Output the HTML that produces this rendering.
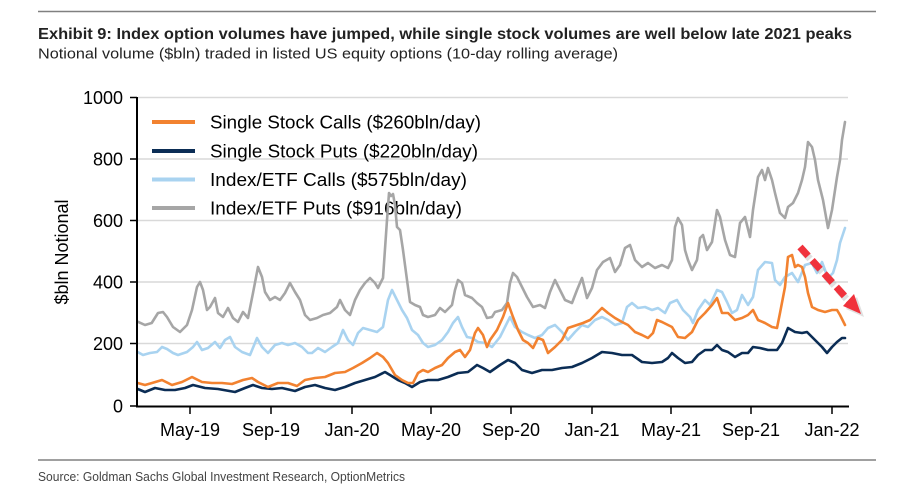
<!DOCTYPE html>
<html>
<head>
<meta charset="utf-8">
<style>
  html,body{margin:0;padding:0;background:#fff;}
  svg{display:block;}
  text{font-family:"Liberation Sans",Arial,sans-serif;}
  .narrow{font-family:"Liberation Sans Narrow","Liberation Sans",Arial,sans-serif;}
</style>
</head>
<body>
<svg width="901" height="484" viewBox="0 0 901 484" xmlns="http://www.w3.org/2000/svg">
  <rect width="901" height="484" fill="#fff"/>
  <!-- top rule -->
  <line x1="38" y1="11.5" x2="876" y2="11.5" stroke="#808080" stroke-width="1.5"/>
  <!-- title -->
  <text class="narrow" x="38" y="39" font-size="16" font-weight="bold" fill="#222" textLength="814" lengthAdjust="spacingAndGlyphs">Exhibit 9: Index option volumes have jumped, while single stock volumes are well below late 2021 peaks</text>
  <text class="narrow" x="38" y="58.5" font-size="15" fill="#222" textLength="580" lengthAdjust="spacingAndGlyphs">Notional volume ($bln) traded in listed US equity options (10-day rolling average)</text>

  <!-- gridlines -->
  <g stroke="#d9d9d9" stroke-width="1.5">
    <line x1="138" y1="97.5" x2="848" y2="97.5"/>
    <line x1="138" y1="159" x2="848" y2="159"/>
    <line x1="138" y1="220.5" x2="848" y2="220.5"/>
    <line x1="138" y1="282" x2="848" y2="282"/>
    <line x1="138" y1="343.5" x2="848" y2="343.5"/>
  </g>

  <!-- y ticks -->
  <g stroke="#000" stroke-width="1.5">
    <line x1="130" y1="97.5" x2="137" y2="97.5"/>
    <line x1="130" y1="159" x2="137" y2="159"/>
    <line x1="130" y1="220.5" x2="137" y2="220.5"/>
    <line x1="130" y1="282" x2="137" y2="282"/>
    <line x1="130" y1="343.5" x2="137" y2="343.5"/>
    <line x1="130" y1="406" x2="137" y2="406"/>
  </g>
  <g font-size="18" fill="#000" text-anchor="end">
    <text x="123" y="104">1000</text>
    <text x="123" y="165.5">800</text>
    <text x="123" y="227">600</text>
    <text x="123" y="288.5">400</text>
    <text x="123" y="350">200</text>
    <text x="123" y="412.5">0</text>
  </g>
  <text x="68" y="252" font-size="18" fill="#000" text-anchor="middle" transform="rotate(-90 68 252)">$bln Notional</text>

  <!-- legend -->
  <g stroke-width="4">
    <line x1="152" y1="122" x2="195" y2="122" stroke="#F28230"/>
    <line x1="152" y1="151" x2="195" y2="151" stroke="#0B2D55"/>
    <line x1="152" y1="179.5" x2="195" y2="179.5" stroke="#A9D3F0"/>
    <line x1="152" y1="208" x2="195" y2="208" stroke="#A6A6A6"/>
  </g>
  <g font-size="18" fill="#000">
    <text x="210" y="128.5" textLength="271" lengthAdjust="spacingAndGlyphs">Single Stock Calls ($260bln/day)</text>
    <text x="210" y="157.5" textLength="268" lengthAdjust="spacingAndGlyphs">Single Stock Puts ($220bln/day)</text>
    <text x="210" y="186" textLength="257" lengthAdjust="spacingAndGlyphs">Index/ETF Calls ($575bln/day)</text>
    <text x="210" y="214.5" textLength="252" lengthAdjust="spacingAndGlyphs">Index/ETF Puts ($916bln/day)</text>
  </g>

  <!-- series -->
  <g fill="none" stroke-width="2.6" stroke-linejoin="round" stroke-linecap="round">
    <polyline stroke="#A6A6A6" points="137.7,321.7 145,325 151.7,323 158,313 163,312 167,317 173,327 180,332 187,325 192,310 197,287 200,282 203,290 207,310 210,307 215,298 218,313 223,317 228,308 233,318 238,322 243,312 248,318 253,293 258,267 262,277 265,292 270,300 275,297 280,300 285,293 290,283 295,292 300,300 305,315 310,320 317,318 323,315 330,313 337,307 340,300 345,310 350,315 355,300 360,290 365,283 370,278 375,283 378,288 383,278 387,220 389,193 391,196 393,194 395,205 397,227 400,230 403,250 407,280 410,302 415,305 420,307 423,315 428,317 435,315 440,308 445,312 452,305 455,290 458,280 462,283 465,295 472,298 477,303 482,307 487,318 492,317 495,312 502,310 507,303 510,283 513,273 517,277 522,287 527,297 533,307 540,305 545,308 550,292 555,280 560,290 565,300 572,303 577,290 582,278 587,298 592,288 597,270 603,262 610,258 615,272 620,265 625,248 630,245 635,260 642,267 648,263 655,268 662,265 668,268 672,260 675,227 678,218 682,225 685,250 688,260 692,270 697,260 700,238 703,235 707,250 712,242 717,210 720,217 725,240 730,255 735,257 740,223 745,217 750,237 753,210 758,177 762,170 765,180 768,168 772,180 775,193 780,213 785,218 788,207 793,203 798,193 802,180 805,167 808,142 812,147 815,160 818,180 823,200 828,228 832,210 837,177 840,160 842,140 845,122"/>
    <polyline stroke="#A9D3F0" points="137.7,352 143,355 150,353 157,352 162,347 167,349 173,353 178,355 187,352 193,347 197,342 202,350 208,348 215,342 220,348 225,340 230,337 235,347 242,352 250,355 257,338 262,347 268,353 275,345 282,343 288,345 295,343 302,347 308,353 312,353 318,348 325,352 332,347 338,343 343,330 348,340 353,345 358,333 363,328 370,330 377,332 383,327 388,300 392,290 397,300 402,310 407,318 412,330 418,335 423,343 428,347 435,345 442,340 448,332 453,323 458,317 462,327 467,337 472,338 478,342 485,343 492,347 500,337 505,327 510,317 515,327 522,332 528,335 535,338 542,335 548,328 555,325 562,332 568,340 575,332 582,325 588,327 595,320 602,317 608,320 615,325 622,323 627,307 632,303 638,308 645,307 652,310 658,308 665,313 670,303 677,300 683,310 690,317 693,323 698,310 705,300 710,305 717,290 722,292 727,302 732,313 737,310 742,295 748,305 753,297 758,270 765,262 772,263 775,280 780,285 785,277 792,273 798,282 805,265 812,263 817,273 822,262 828,278 833,273 837,260 840,243 845,228"/>
    <polyline stroke="#0B2D55" points="137.7,389 145,392 155,388 165,390 175,390 185,388 193,385 205,388 218,389 235,392 245,388 253,385 262,388 272,389 282,388 295,391 305,387 315,385 325,388 335,390 345,387 355,383 365,380 375,377 385,372 390,375 398,380 405,383 412,387 420,382 428,380 438,380 448,377 458,373 468,372 477,365 483,368 490,372 500,365 508,360 515,363 522,370 532,373 542,370 552,370 562,368 572,367 582,363 592,358 602,352 612,353 622,355 632,355 642,362 652,363 662,362 668,358 672,353 678,358 685,363 692,362 698,355 705,350 712,350 717,345 722,350 728,352 735,357 742,353 748,353 753,347 760,348 768,350 777,350 782,343 788,328 795,332 802,333 807,332 812,337 817,342 822,347 827,353 832,347 837,342 842,338 845,338"/>
    <polyline stroke="#F28230" points="137.7,383 145,385 152,383 162,380 172,385 182,382 192,377 202,382 212,383 222,383 232,384 243,380 252,378 258,382 268,387 278,383 288,383 297,386 305,380 315,378 325,377 335,373 345,372 353,368 362,363 370,358 377,353 383,357 388,363 395,375 402,380 408,383 413,383 418,373 423,370 428,372 435,368 442,365 448,358 455,352 460,350 465,357 470,350 475,333 478,328 483,335 487,347 490,340 497,330 503,317 508,303 513,317 518,330 523,340 528,343 533,348 538,338 543,340 548,353 555,347 562,340 568,328 577,325 583,323 590,320 597,313 602,308 608,313 615,318 622,322 628,325 635,332 642,335 648,338 653,333 657,320 662,322 668,325 672,327 678,337 685,338 692,332 698,320 705,313 712,305 717,298 722,313 728,313 735,320 742,318 748,315 753,310 758,320 765,323 772,327 777,328 780,313 785,287 788,257 792,255 795,267 798,265 802,267 805,277 808,293 812,307 818,310 825,312 832,310 837,310 840,315 845,325"/>
  </g>

  <!-- axes -->
  <line x1="137" y1="97" x2="137" y2="407" stroke="#000" stroke-width="2"/>
  <line x1="136" y1="406.5" x2="849" y2="406.5" stroke="#000" stroke-width="2"/>
  <g stroke="#000" stroke-width="1.5">
    <line x1="190" y1="406" x2="190" y2="414"/>
    <line x1="271" y1="406" x2="271" y2="414"/>
    <line x1="352" y1="406" x2="352" y2="414"/>
    <line x1="431" y1="406" x2="431" y2="414"/>
    <line x1="511" y1="406" x2="511" y2="414"/>
    <line x1="592" y1="406" x2="592" y2="414"/>
    <line x1="671" y1="406" x2="671" y2="414"/>
    <line x1="751" y1="406" x2="751" y2="414"/>
    <line x1="832" y1="406" x2="832" y2="414"/>
  </g>
  <g font-size="18" fill="#000" text-anchor="middle">
    <text x="190" y="436">May-19</text>
    <text x="271" y="436">Sep-19</text>
    <text x="352" y="436">Jan-20</text>
    <text x="431" y="436">May-20</text>
    <text x="511" y="436">Sep-20</text>
    <text x="592" y="436">Jan-21</text>
    <text x="671" y="436">May-21</text>
    <text x="751" y="436">Sep-21</text>
    <text x="832" y="436">Jan-22</text>
  </g>

  <!-- red dashed arrow with shadow -->
  <g opacity="0.25">
    <line x1="802" y1="250" x2="852" y2="305" stroke="#888" stroke-width="7" stroke-dasharray="12 6"/>
    <polygon points="846,309 857,297 864,317" fill="#888"/>
  </g>
  <line x1="800" y1="247" x2="850" y2="302" stroke="#F0323C" stroke-width="7" stroke-dasharray="12 6"/>
  <polygon points="843,306 854,294 861,314" fill="#F0323C"/>

  <!-- bottom rule and source -->
  <line x1="38" y1="460" x2="876" y2="460" stroke="#808080" stroke-width="1.5"/>
  <text class="narrow" x="38" y="481" font-size="13" fill="#444" textLength="367" lengthAdjust="spacingAndGlyphs">Source: Goldman Sachs Global Investment Research, OptionMetrics</text>
</svg>
</body>
</html>
